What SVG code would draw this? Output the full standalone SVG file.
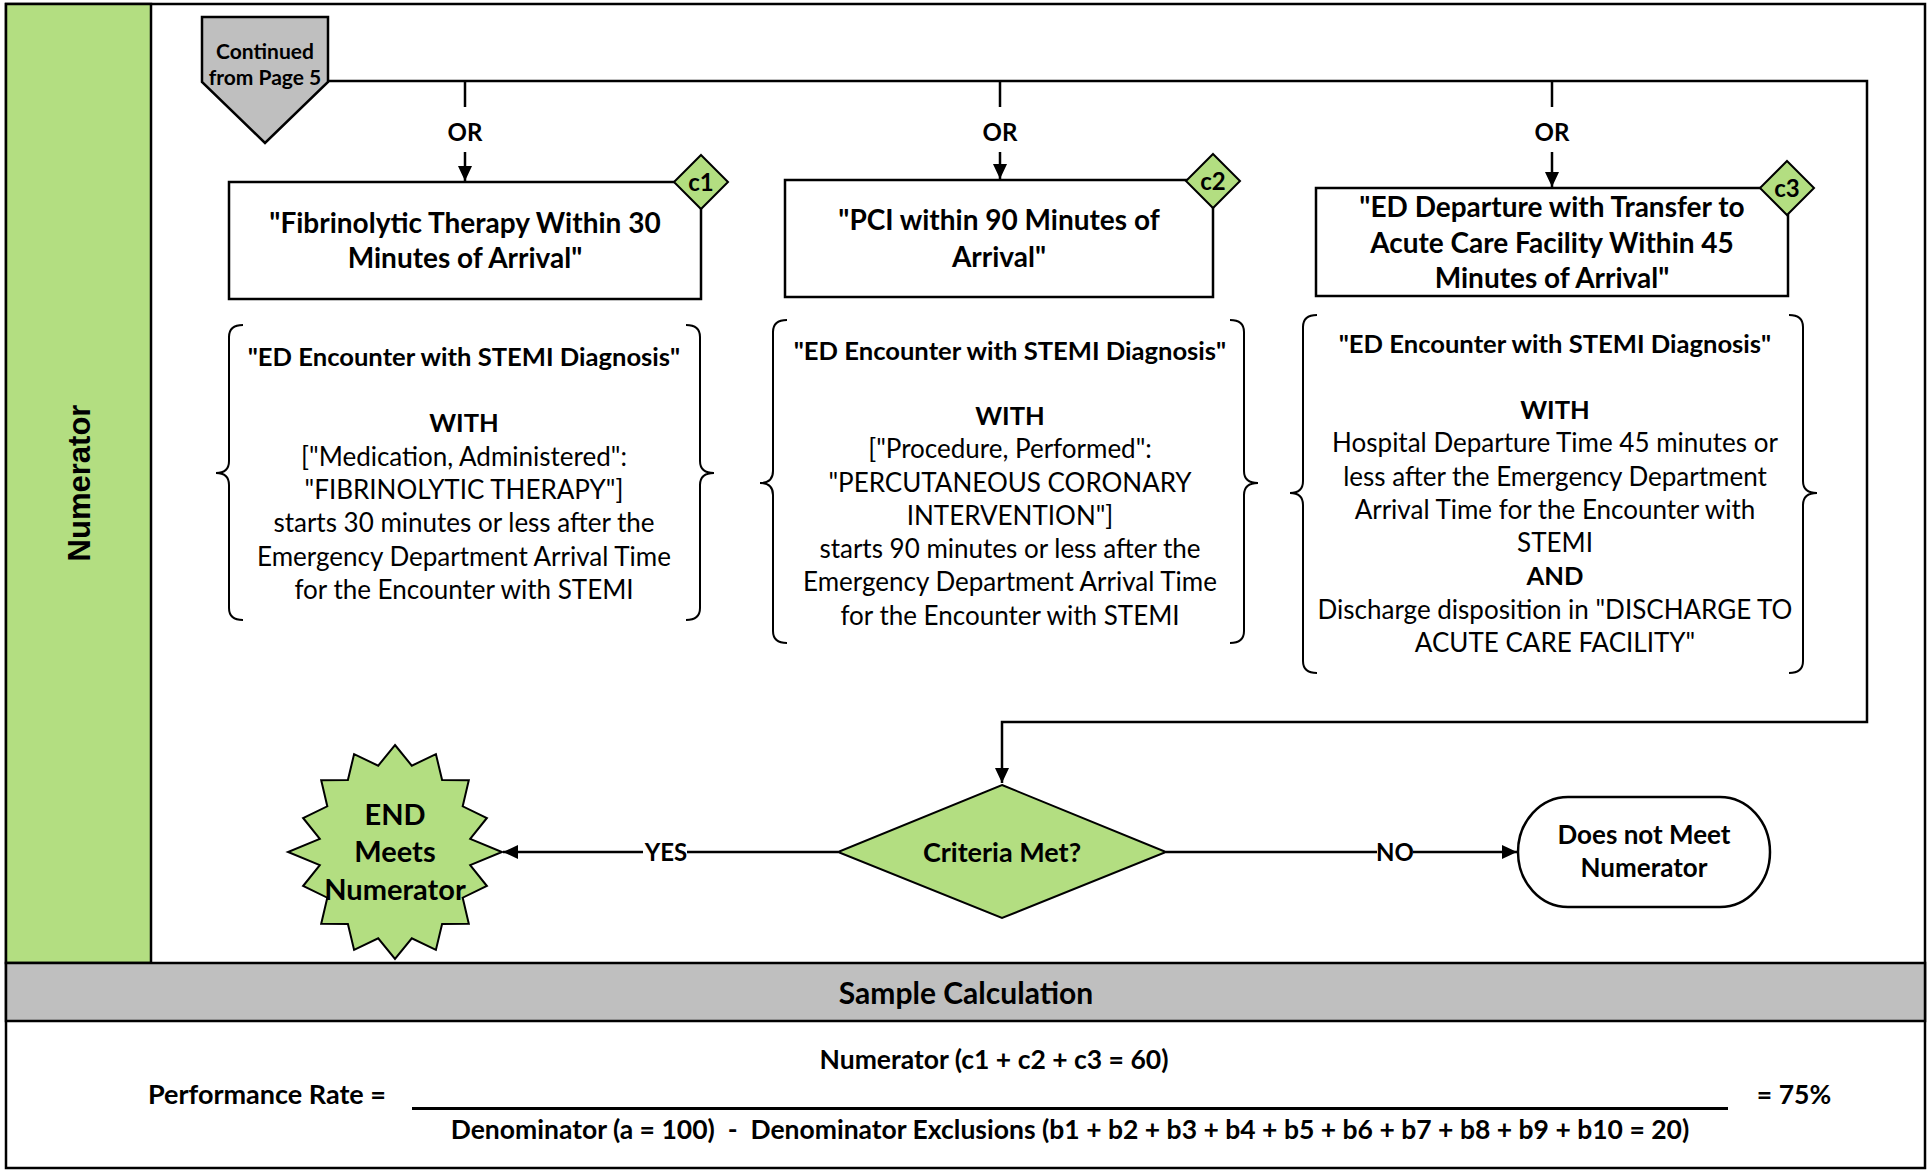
<svg xmlns="http://www.w3.org/2000/svg" width="1931" height="1171" viewBox="0 0 1931 1171">
<style>
.t{font-family:Lato,"Liberation Sans",sans-serif;fill:#000;text-anchor:middle}
.b{font-weight:bold}
.box{fill:#fff;stroke:#000;stroke-width:2.5}
.grn{fill:#b3de81;stroke:#000;stroke-width:2}
.ln{fill:none;stroke:#000;stroke-width:2.5}
.br{fill:none;stroke:#000;stroke-width:2}
.s28{font-size:28px}
.s26{font-size:26px}
.sh{font-size:25.6px}
.s24{font-size:24px}
.s21{font-size:21px}
.sc{font-size:26.5px}
</style>
<defs>
<marker id="ah" markerUnits="userSpaceOnUse" markerWidth="16" markerHeight="14" refX="15" refY="7" orient="auto">
<path d="M0,0 L15,7 L0,14 z" fill="#000"/>
</marker>
</defs>
<rect x="0" y="0" width="1931" height="1171" fill="#fff"/>
<g id="frame">
<rect x="6" y="4" width="1919" height="1164" fill="#fff" stroke="#000" stroke-width="2.5"/>
<rect x="6" y="4" width="145" height="959" fill="#b3de81" stroke="#000" stroke-width="2.5"/>
<text x="0" y="0" transform="translate(90,483) rotate(-90)" style="font-family:'Liberation Sans',Arial,sans-serif;font-weight:bold;font-size:31px;text-anchor:middle">Numerator</text>
<rect x="6" y="963" width="1919" height="58" fill="#bfbfbf" stroke="#000" stroke-width="2.5"/>
<text class="t b" x="966" y="1004" style="font-size:30px">Sample Calculation</text>
</g>
<g id="calc">
<text class="t b sc" x="994" y="1069">Numerator (c1 + c2 + c3 = 60)</text>
<text class="t b" x="267" y="1104" style="font-size:27px">Performance Rate =</text>
<rect x="412" y="1107" width="1316" height="3" fill="#000"/>
<text class="t b sc" x="1794" y="1104">= 75%</text>
<text class="t b sc" x="1070" y="1139" xml:space="preserve">Denominator (a = 100)  -  Denominator Exclusions (b1 + b2 + b3 + b4 + b5 + b6 + b7 + b8 + b9 + b10 = 20)</text>
</g>
<g id="connectors">
<path class="ln" d="M328,81 H1867 V722 H1002 V783" marker-end="url(#ah)"/>
<path class="ln" d="M465,81 V107"/>
<path class="ln" d="M465,152 V181" marker-end="url(#ah)"/>
<path class="ln" d="M1000,81 V107"/>
<path class="ln" d="M1000,152 V179" marker-end="url(#ah)"/>
<path class="ln" d="M1552,81 V107"/>
<path class="ln" d="M1552,152 V187" marker-end="url(#ah)"/>
<path class="ln" d="M838,852 H503" marker-end="url(#ah)"/>
<path class="ln" d="M1166,852 H1517" marker-end="url(#ah)"/>
<rect x="643" y="840" width="44" height="24" fill="#fff"/>
<text class="t b s24" x="666" y="861">YES</text>
<rect x="1377" y="840" width="36" height="24" fill="#fff"/>
<text class="t b s24" x="1395" y="861">NO</text>
<text class="t b s24" x="465" y="141">OR</text>
<text class="t b s24" x="1000" y="141">OR</text>
<text class="t b s24" x="1552" y="141">OR</text>
</g>
<g id="continued">
<polygon points="202,17 328,17 328,82 265,143 202,82" fill="#bfbfbf" stroke="#000" stroke-width="2.5"/>
<text class="t b s21" x="265" y="59">Continued</text>
<text class="t b s21" x="265" y="85">from Page 5</text>
</g>
<g id="c1">
<rect class="box" x="229" y="182" width="472" height="117"/>
<text class="t b s28" x="465" y="233">"Fibrinolytic Therapy Within 30</text>
<text class="t b s28" x="465" y="268">Minutes of Arrival"</text>
<polygon class="grn" points="701,155 728,182 701,209 674,182"/>
<text class="t b s24" x="701" y="191">c1</text>
</g>
<g id="c2">
<rect class="box" x="785" y="180" width="428" height="117"/>
<text class="t b s28" x="999" y="230">"PCI within 90 Minutes of</text>
<text class="t b s28" x="999" y="267">Arrival"</text>
<polygon class="grn" points="1213,154 1240,181 1213,208 1186,181"/>
<text class="t b s24" x="1213" y="190">c2</text>
</g>
<g id="c3">
<rect class="box" x="1316" y="188" width="472" height="108"/>
<text class="t b s28" x="1552" y="217">"ED Departure with Transfer to</text>
<text class="t b s28" x="1552" y="253">Acute Care Facility Within 45</text>
<text class="t b s28" x="1552" y="288">Minutes of Arrival"</text>
<polygon class="grn" points="1787,161 1814,188 1787,215 1760,188"/>
<text class="t b s24" x="1787" y="197">c3</text>
</g>
<g id="crit1">
<path class="br" d="M243,325 Q229,325 229,337 V461 Q229,473 216,473 Q229,473 229,485 V608 Q229,620 243,620"/>
<path class="br" d="M686,325 Q700,325 700,337 V461 Q700,473 714,473 Q700,473 700,485 V608 Q700,620 686,620"/>
<text class="t b sh" x="464" y="366">"ED Encounter with STEMI Diagnosis"</text>
<text class="t b sh" x="464" y="432">WITH</text>
<text class="t s26" x="464" y="466">["Medication, Administered":</text>
<text class="t s26" x="464" y="499">"FIBRINOLYTIC THERAPY"]</text>
<text class="t s26" x="464" y="532">starts 30 minutes or less after the</text>
<text class="t s26" x="464" y="566">Emergency Department Arrival Time</text>
<text class="t s26" x="464" y="599">for the Encounter with STEMI</text>
</g>
<g id="crit2">
<path class="br" d="M787,320 Q773,320 773,332 V471 Q773,483 760,483 Q773,483 773,495 V631 Q773,643 787,643"/>
<path class="br" d="M1230,320 Q1244,320 1244,332 V471 Q1244,483 1258,483 Q1244,483 1244,495 V631 Q1244,643 1230,643"/>
<text class="t b sh" x="1010" y="360">"ED Encounter with STEMI Diagnosis"</text>
<text class="t b sh" x="1010" y="425">WITH</text>
<text class="t s26" x="1010" y="458">["Procedure, Performed":</text>
<text class="t s26" x="1010" y="492">"PERCUTANEOUS CORONARY</text>
<text class="t s26" x="1010" y="525">INTERVENTION"]</text>
<text class="t s26" x="1010" y="558">starts 90 minutes or less after the</text>
<text class="t s26" x="1010" y="591">Emergency Department Arrival Time</text>
<text class="t s26" x="1010" y="625">for the Encounter with STEMI</text>
</g>
<g id="crit3">
<path class="br" d="M1317,315 Q1303,315 1303,327 V481 Q1303,493 1290,493 Q1303,493 1303,505 V661 Q1303,673 1317,673"/>
<path class="br" d="M1789,315 Q1803,315 1803,327 V481 Q1803,493 1817,493 Q1803,493 1803,505 V661 Q1803,673 1789,673"/>
<text class="t b sh" x="1555" y="353">"ED Encounter with STEMI Diagnosis"</text>
<text class="t b sh" x="1555" y="419">WITH</text>
<text class="t s26" x="1555" y="452">Hospital Departure Time 45 minutes or</text>
<text class="t s26" x="1555" y="486">less after the Emergency Department</text>
<text class="t s26" x="1555" y="519">Arrival Time for the Encounter with</text>
<text class="t s26" x="1555" y="552">STEMI</text>
<text class="t b sh" x="1555" y="585">AND</text>
<text class="t s26" x="1555" y="619">Discharge disposition in "DISCHARGE TO</text>
<text class="t s26" x="1555" y="652">ACUTE CARE FACILITY"</text>
</g>
<g id="criteria">
<polygon class="grn" points="1002,785 1166,852 1002,918 838,852"/>
<text class="t b" x="1002" y="862" style="font-size:27px">Criteria Met?</text>
</g>
<g id="end">
<polygon class="grn" points="395.0,745.0 411.8,765.7 435.9,754.1 442.1,780.0 468.8,780.3 462.7,806.3 486.9,818.0 470.2,838.8 502.0,852.0 470.2,865.2 486.9,886.0 462.7,897.7 468.8,923.7 442.1,924.0 435.9,949.9 411.8,938.3 395.0,959.0 378.2,938.3 354.1,949.9 347.9,924.0 321.2,923.7 327.3,897.7 303.1,886.0 319.8,865.2 288.0,852.0 319.8,838.8 303.1,818.0 327.3,806.3 321.2,780.3 347.9,780.0 354.1,754.1 378.2,765.7"/>
<text class="t b" x="395" y="825" style="font-size:29px">END</text>
<text class="t b" x="395" y="862" style="font-size:29px">Meets</text>
<text class="t b" x="395" y="900" style="font-size:29px">Numerator</text>
</g>
<g id="notmeet">
<rect class="box" x="1518" y="797" width="252" height="110" rx="50" ry="55"/>
<text class="t b s26" x="1644" y="844">Does not Meet</text>
<text class="t b s26" x="1644" y="877">Numerator</text>
</g>
</svg>
